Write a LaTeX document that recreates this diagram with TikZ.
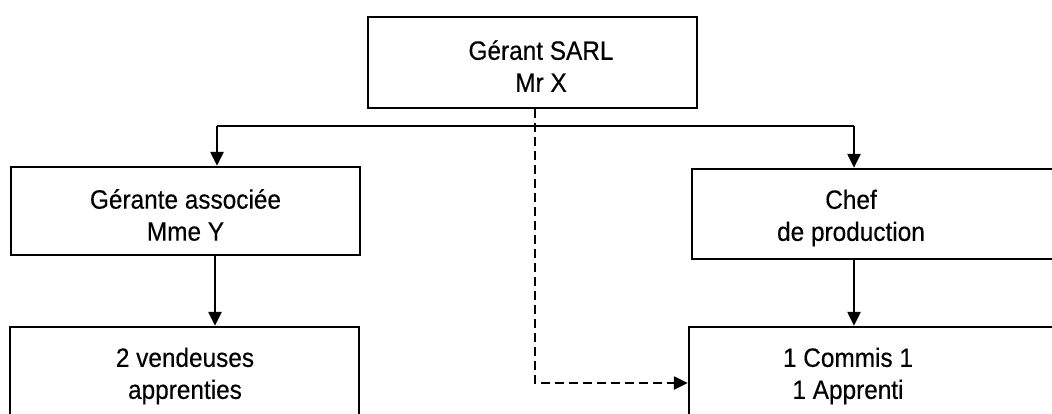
\documentclass[tikz,border=0pt]{standalone}
\usepackage{fontspec}
\setmainfont[FakeStretch=0.92,FakeBold=0.4]{Liberation Sans}
\usetikzlibrary{arrows.meta}
\begin{document}
\begin{tikzpicture}[x=1pt,y=-1pt,
  box/.style={draw=black, line width=2.4pt, inner sep=0pt},
  lbl/.style={font=\fontsize{26.5}{32}\selectfont, align=center, inner sep=0pt},
  conn/.style={line width=2.4pt, -{Triangle[length=14pt,width=13pt]}},
  dconn/.style={line width=2.4pt, dash pattern=on 9pt off 5pt, -{Triangle[length=14pt,width=13pt]}}]
\useasboundingbox (0,0) rectangle (1052,413);
% boxes
\node[box, minimum width=329pt, minimum height=91pt] (topbox) at (532.5,62.5) {};
\node[lbl] (top) at (541,66) {Gérant SARL\\Mr X};
\node[box, minimum width=349pt, minimum height=88pt] (gerbox) at (185.5,211) {};
\node[lbl] (ger) at (185.5,215) {Gérante associée\\Mme Y};
\node[box, minimum width=349pt, minimum height=90pt] (venbox) at (184.5,372) {};
\node[lbl] (ven) at (185,376) {2 vendeuses\\apprenties};
\node[box, minimum width=380pt, minimum height=90pt] (chefbox) at (882,214) {};
\node[lbl] (chef) at (851,218) {Chef\\de production};
\node[box, minimum width=383pt, minimum height=90pt] (combox) at (880.5,372) {};
\node[lbl] (com) at (848,376) {1 Commis 1\\1 Apprenti};
% connectors
\coordinate (hl) at (217,126);
\coordinate (hr) at (854,126);
\coordinate (dc) at (535,383);
\draw[line width=2.4pt] (hl) -- (hr);
\draw[conn] (hl) -- (hl |- gerbox.north);
\draw[conn] (hr) -- (hr |- chefbox.north);
\draw[conn] (gerbox.south -| 215,0) -- (venbox.north -| 215,0);
\draw[conn] (chefbox.south -| hr) -- (combox.north -| hr);
\draw[dconn] (topbox.south -| dc) -- (dc) -- (dc -| combox.west);
\end{tikzpicture}
\end{document}
